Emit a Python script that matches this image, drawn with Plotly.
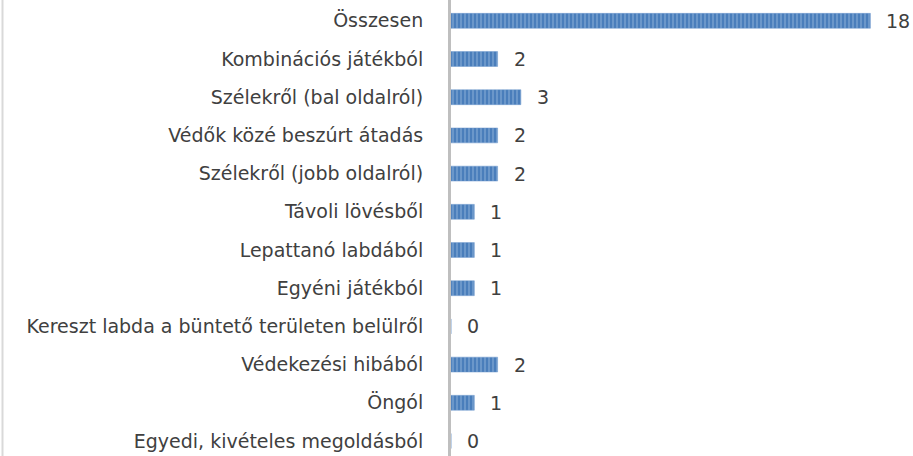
import plotly.graph_objects as go

categories = [
    "Összesen",
    "Kombinációs játékból",
    "Szélekről (bal oldalról)",
    "Védők közé beszúrt átadás",
    "Szélekről (jobb oldalról)",
    "Távoli lövésből",
    "Lepattanó labdából",
    "Egyéni játékból",
    "Kereszt labda a büntető területen belülről",
    "Védekezési hibából",
    "Öngól",
    "Egyedi, kivételes megoldásból",
]
values = [18, 2, 3, 2, 2, 1, 1, 1, 0, 2, 1, 0]

FONT = "DejaVu Sans"
FSIZE = 19
TXT = "#404040"
W, H, L = 913, 456, 451

fig = go.Figure()
fig.add_trace(go.Bar(
    x=values, y=categories, orientation="h", width=0.39,
    marker=dict(
        color="#4a7ebb",
        line=dict(color="#6f98cc", width=0.5),
        pattern=dict(shape="|", fgcolor="#9dbbe0", bgcolor="#4a7ebb",
                     size=4, solidity=0.4),
    ),
    hoverinfo="x+y",
))

for c, v in zip(categories, values):
    fig.add_annotation(x=v, y=c, text=str(v), showarrow=False,
                       xanchor="left", xshift=14,
                       font=dict(family=FONT, size=FSIZE, color=TXT))

# light chart border at the left edge
bx = (2.5 - L) / (W - L)
fig.add_shape(type="line", xref="paper", yref="paper", x0=bx, x1=bx, y0=0, y1=1,
              layer="above", line=dict(color="#d9d9d9", width=2))

fig.update_layout(
    width=W, height=H,
    margin=dict(l=L, r=0, t=0, b=0),
    paper_bgcolor="white", plot_bgcolor="white",
    showlegend=False,
    font=dict(family=FONT, size=FSIZE, color=TXT),
)
fig.update_xaxes(range=[0, 19.83], visible=False, showgrid=False, zeroline=False)
fig.update_yaxes(range=[11.393, -0.545], showline=True, linecolor="#bfbfbf",
                 linewidth=3, ticks="", showgrid=False, zeroline=False,
                 ticklabelstandoff=21, automargin=False,
                 tickfont=dict(family=FONT, size=FSIZE, color=TXT))

fig.write_html("out.html", config={"displayModeBar": False},
               post_script="document.body.style.margin='0px';")
